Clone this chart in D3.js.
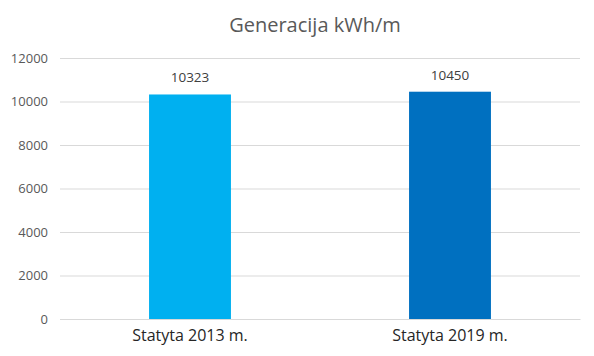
<!DOCTYPE html>
<html><head><meta charset="utf-8">
<script src="https://cdn.jsdelivr.net/npm/d3@7"></script>
<style>body{margin:0;background:#fff}svg{display:block}text{font-family:"Open Sans","Liberation Sans",sans-serif}</style>
</head><body><svg id="c" width="594" height="356"></svg>
<script>
const categories = ["Statyta 2013 m.", "Statyta 2019 m."];
const values = [10323, 10450];
const colors = ["#00B0F0", "#0070C0"];
const yTicks = [0, 2000, 4000, 6000, 8000, 10000, 12000];
const title = "Generacija kWh/m";

const svg = d3.select("#c");
const m = {l: 60, r: 14, t: 58, b: 37};
const W = 594, H = 356;
const x = d3.scaleBand().domain(categories).range([m.l, W - m.r]).paddingInner(0.685).paddingOuter(0.3425);
const y = d3.scaleLinear().domain([0, 12000]).range([H - m.b, m.t]);

svg.append("text").attr("x", 315).attr("y", 32).attr("text-anchor", "middle")
  .attr("font-size", 20).attr("fill", "#595959").text(title);

const gy = svg.append("g").attr("transform", `translate(${m.l},0)`)
  .call(d3.axisLeft(y).tickValues(yTicks).tickSize(-(W - m.l - m.r)).tickPadding(12).tickFormat(d3.format("d")));
gy.select(".domain").remove();
gy.selectAll(".tick line").attr("stroke", "#d9d9d9");
gy.selectAll(".tick text").attr("fill", "#595959").attr("font-size", 13);

svg.selectAll("rect.bar").data(values).enter().append("rect").attr("class", "bar")
  .attr("x", (d, i) => x(categories[i])).attr("width", x.bandwidth())
  .attr("y", d => y(d)).attr("height", d => y(0) - y(d))
  .attr("fill", (d, i) => colors[i]);

svg.selectAll("text.lbl").data(values).enter().append("text").attr("class", "lbl")
  .attr("x", (d, i) => x(categories[i]) + x.bandwidth() / 2).attr("y", d => y(d) - 12)
  .attr("text-anchor", "middle").attr("font-size", 13.5).attr("fill", "#404040").text(d => d);

const gx = svg.append("g").attr("transform", `translate(0,${H - m.b})`)
  .call(d3.axisBottom(x).tickSize(0).tickPadding(11));
gx.select(".domain").attr("stroke", "#d9d9d9");
gx.selectAll(".tick text").attr("fill", "#262626").attr("font-size", 16);
</script></body></html>
